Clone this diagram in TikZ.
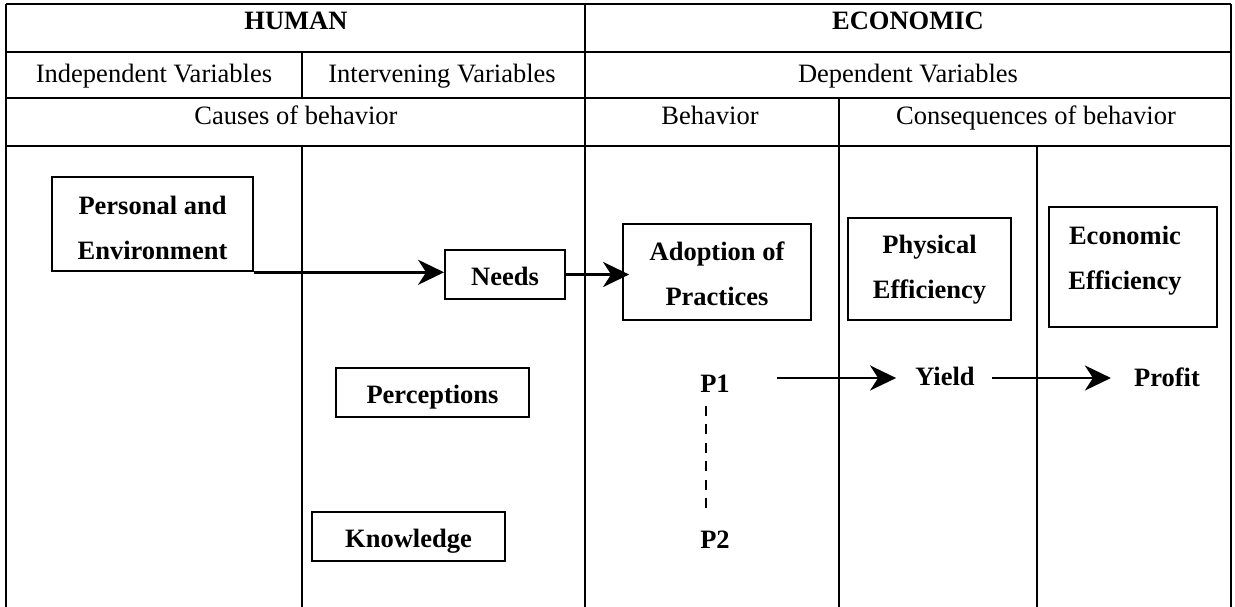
\documentclass[tikz,border=0pt]{standalone}
\usepackage{fontspec}
\setmainfont{Liberation Serif}
\usetikzlibrary{arrows.meta,calc}
\newcommand{\sr}[2]{\rule[-#2pt]{0pt}{\dimexpr#1pt+#2pt\relax}}
\begin{document}
\begin{tikzpicture}[x=1pt,y=-1pt,
  tl/.style={line width=2pt},
  hdr/.style={font=\fontsize{26.5}{32}\selectfont, anchor=base, inner sep=0pt},
  hdrb/.style={font=\fontsize{26.5}{32}\selectfont\bfseries, anchor=base, inner sep=0pt},
  box/.style={draw, line width=1.8pt, font=\fontsize{26.5}{45}\selectfont\bfseries, align=center, inner sep=0pt},
  lbl/.style={font=\fontsize{26.5}{32}\selectfont\bfseries, anchor=base, inner sep=0pt},
  arr/.style={line width=2.8pt, -{Stealth[length=26pt,width=25pt,inset=8pt]}},
  dsh/.style={line width=2.4pt, dash pattern=on 10pt off 8.4pt},
]
\useasboundingbox (0,0) rectangle (1235,607);
% table grid
\draw[tl] (6,4) -- (1231,4);
\draw[tl] (6,52) -- (1231,52);
\draw[tl] (6,98) -- (1231,98);
\draw[tl] (6,146) -- (1231,146);
\draw[tl] (6,4) -- (6,607);
\draw[tl] (1231,4) -- (1231,607);
\draw[tl] (585,4) -- (585,607);
\draw[tl] (302,52) -- (302,98);
\draw[tl] (302,146) -- (302,607);
\draw[tl] (839,98) -- (839,607);
\draw[tl] (1037,146) -- (1037,607);
% headers
\node[hdrb] (human) at (296,30) {HUMAN};
\node[hdrb] (econ) at (908,30) {ECONOMIC};
\node[hdr] (indep) at (154,83) {Independent Variables};
\node[hdr] (interv) at (442,83) {Intervening Variables};
\node[hdr] (dep) at (908,83) {Dependent Variables};
\node[hdr] (causes) at (296,125) {Causes of behavior};
\node[hdr] (behav) at (710,125) {Behavior};
\node[hdr] (conseq) at (1036,125) {Consequences of behavior};
% boxes
\node[box, line width=2.6pt, minimum width=201pt, minimum height=94pt] (pers) at (152.5,224) {\sr{31}{0}Personal and\\Environment\sr{0}{6}};
\node[box, minimum width=120pt, minimum height=49pt] (needs) at (505,274.5) {\sr{30}{8}Needs};
\node[box, minimum width=188pt, minimum height=96pt] (adopt) at (717,272) {\sr{27}{0}Adoption of\\Practices\sr{0}{6}};
\node[box, minimum width=163pt, minimum height=102pt] (phys) at (929.5,269) {\sr{22}{0}Physical\\Efficiency\sr{0}{8}};
\node[box, minimum width=168pt, minimum height=120pt] (ecoeff) at (1133,267) {\sr{21}{0}Economic\rule{16pt}{0pt}\\Efficiency\rule{16pt}{0pt}\sr{0}{22}};
\node[box, minimum width=193pt, minimum height=49pt] (perc) at (432.5,392.5) {\sr{30}{8}Perceptions};
\node[box, minimum width=193pt, minimum height=49pt] (know) at (408.5,536.5) {\sr{30}{8}Knowledge};
% labels
\node[lbl] (p1) at (715,392) {P1};
\node[lbl] (p2) at (715,548) {P2};
\node[lbl] (yield) at (945,385) {Yield};
\node[lbl] (profit) at (1167,386) {Profit};
% connectors
\draw[arr] (pers.south east) -- (pers.south east -| needs.west);
\draw[arr, shorten >=-7pt] (needs.east) -- (needs.east -| adopt.west);
\draw[dsh] ($(p1.base)+(-9,14)$) -- ($(p2.north)+(-9,-22)$);
\draw[arr] ($(p1.base east)+(47,-14)$) -- ($(yield.base west)+(-19,-7)$);
\draw[arr] ($(yield.base east)+(17,-7)$) -- ($(profit.base west)+(-23,-8)$);
\end{tikzpicture}
\end{document}
